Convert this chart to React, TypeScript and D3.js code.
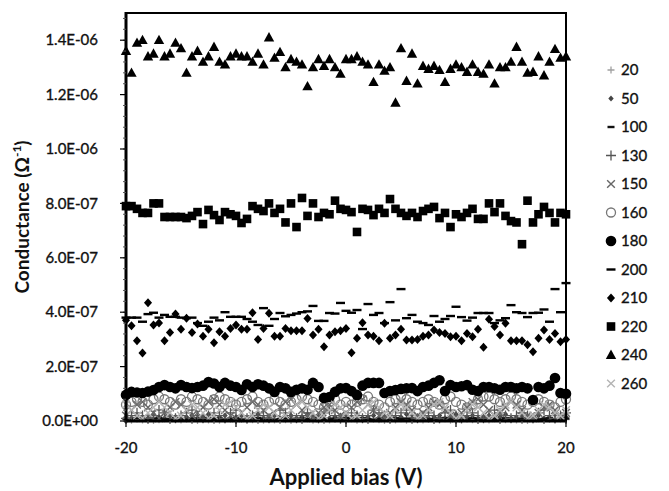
import * as d3 from "d3";

// measurement grid: -20 V to 20 V in 0.5 V steps
const biasV = d3.range(0, 81).map((i) => -20 + i * 0.5);

// conductance values, in units of 1e-8 S
const s20 = [0.5,0.3,0.7,0.4,0.6,0.2,0.5,0.8,0.3,0.6, 0.4,0.7,0.5,0.2,0.6,0.4,0.8,0.3,0.5,0.7, 0.4,0.6,0.2,0.5,0.8,0.3,0.6,0.4,0.7,0.5, 0.2,0.6,0.4,0.8,0.3,0.5,0.7,0.4,0.6,0.2, 0.5,0.8,0.3,0.6,0.4,0.7,0.5,0.2,0.6,0.4, 0.8,0.3,0.5,0.7,0.4,0.6,0.2,0.5,0.8,0.3, 0.6,0.4,0.7,0.5,0.2,0.6,0.4,0.8,0.3,0.5, 0.7,0.4,0.6,0.2,0.5,0.8,0.3,0.6,0.4,0.7, 0.5];
const s50 = [1.5,1,2,1.5,1,2.5,1.5,1,2,1.5, 1,1.5,2,1,1.5,2.5,1,1.5,2,1, 1.5,2,1,1.5,2.5,1,1.5,2,1,1.5, 2,1,1.5,2.5,1,1.5,2,1,1.5,2, 1,1.5,2.5,1,1.5,2,1,1.5,2,1, 1.5,2.5,1,1.5,2,1,1.5,2,1,1.5, 2.5,1,1.5,2,1,1.5,2,1,1.5,2.5, 1,1.5,2,1,1.5,2,1,1.5,2.5,1, 1.5];
const s100 = [0.8,0.6,1,0.7,0.5,0.9,1.1,0.6,0.8,1, 0.7,0.5,0.9,0.8,0.6,1,0.7,0.9,0.5,0.8, 1,0.6,0.7,0.9,1.1,0.6,0.8,0.5,0.7,1, 0.8,0.6,0.9,0.7,0.5,1,0.8,0.6,0.9,0.7, 1.1,0.6,0.8,1,0.7,0.5,0.9,0.8,0.6,1, 0.7,0.9,0.5,0.8,1,0.6,0.7,0.9,1.1,0.6, 0.8,0.5,0.7,1,0.8,0.6,0.9,0.7,0.5,1, 0.8,0.6,0.9,0.7,1.1,0.6,0.8,1,0.7,0.5, 0.9];
const s130 = [1,2,3,2,1,2,4,3,2,1, 2,3,4,2,1,2,3,2,1,3, 4,2,1,2,3,2,1,2,4,3, 2,1,2,3,2,1,3,4,2,1, 2,3,2,1,2,4,3,2,1,2, 3,4,2,1,2,3,2,1,3,4, 2,1,2,3,2,1,2,4,3,2, 1,2,3,2,1,3,4,2,1,2, 3];
const s150 = [2,4,6,7,5,3,1,3,5,7, 6,4,2,3,5,7,8,6,4,2, 1,3,5,7,6,4,2,3,5,7, 8,6,4,2,1,3,5,6,4,2, 3,5,7,8,6,4,2,1,3,5, 7,6,4,2,3,5,7,6,4,2, 1,3,5,7,8,6,4,2,3,5, 7,6,4,2,1,3,5,6,4,2, 3];
const s160 = [6,7,8,7,6,8,9,8,7,6, 8,7,9,8,7,6,8,9,8,7, 6,7,8,9,7,6,7,8,7,6, 7,8,9,8,7,6,5,7,8,6, 7,6,7,8,9,7,6,5,7,8, 9,8,7,6,7,8,7,6,8,9, 7,6,5,6,8,9,9,8,7,8, 9,8,7,6,7,8,7,6,5,7, 8];
const s180 = [9.6,10.7,10.5,10.3,10.8,11.4,12.5,13.2,12.5,12, 13.2,12.5,12.1,12.5,13,14.3,13.8,12.5,14,13, 12.5,11.4,13.5,12.5,13.5,13,12,10.7,12.5,12, 10.7,11.5,12,11.5,14,12.5,8.5,8.8,10.7,12, 12.1,11,9.6,13,14,14,14,10.3,11,11.4, 11.8,12,12.1,11,12.5,13,14,15,11,13.2, 12.5,12.8,13.2,11.5,11,12.5,12.5,12,11.5,12.5, 12.5,12,12.5,12,7.7,12.5,12,13,15.8,10.3, 10];
const s200 = [38,38,38,36.5,39.3,39.8,38,39,38.3,38.3, 38,37.8,38,36,35,36.5,38,37,40,38.3, 38.3,38.3,37.5,36.5,35.3,41.5,35,37.5,39.7,38.5, 39,39.5,40,40.3,42.3,36.8,36.8,39.7,39.5,43.4, 40.5,39.8,40.8,33.8,43,39,39.7,36,43.7,37, 48.5,37.8,39,36.5,36,35.3,38.6,36.5,37.5,38.6, 42,38.2,36.9,38,39.7,39.7,39.7,36,37,37.8, 42.6,40,39.7,38.2,39.7,39.8,41,36.5,48.5,40, 50.7];
const s210 = [37,35,29.5,25,43.5,35.3,36,29.5,32.5,39.3, 33.7,37.8,32.5,35.7,31.2,33.7,28.8,32.8,31.2,34, 35.3,33.7,33.7,39.8,30,34,39.6,31.2,31.2,34, 33.2,33.2,33.2,37.7,31.6,33.7,27.3,31.6,32.8,33.2, 34,25.1,30.4,36.1,31.6,31.2,29.5,35.9,30.4,31.6, 33.7,29.8,29.8,30,31.2,31.6,33.5,32.5,32.2,31, 31.2,29.5,32.2,31,33.7,27.1,37.4,34.7,31.6,35.9, 29.5,29.5,29.5,28,25.5,30.4,33.5,30,32.2,29.1, 30];
const s220 = [79,79,78,76.5,76.5,80,80,75,75,75, 75,74.6,75.4,76.8,72.4,77.6,75.7,73.9,76.8,76, 75.4,72.8,74.3,79,78,77.2,80,76.5,78,73, 80,71.3,82,75.4,80,75,76.5,76,81,78, 77.6,76.8,69.5,78,77.6,75.7,78,76.5,81.6,78, 76.5,75.4,76.5,75,77.2,78,78.7,74.6,76.5,71.3, 76,75,76.5,78,74.3,74.3,80,76.8,80,75.4, 73.5,73,65,81,73,76,78.7,76.5,73,76.5, 76];
const s240 = [136,128,139,140,134,135,140,134,135,139, 137,128,134,136,132,134,137.5,132,131,134, 135,134,134,132,135,131,141,133.5,135.6,130, 133,132,131,123,130,133,130.5,133,130,127.6, 133,133,134,132,131,124.6,131,128.7,130,117, 137,125,135,124,130.5,129.4,130.5,129,124.6,129.4, 131,130,128.3,131,128.3,127.6,131,124,130,130, 132,137.5,132,128,128.3,134,127,132,136.7,133.5, 134];
const s260 = [6,4,2,1,3,5,7,5,3,1, 2,4,6,5,3,1,2,4,6,7, 5,3,1,2,4,6,5,3,1,2, 4,6,7,5,3,1,2,4,6,5, 3,1,2,4,6,7,5,3,2,4, 6,5,3,1,2,4,6,7,5,3, 1,2,4,6,5,3,1,2,4,6, 7,5,3,1,2,4,6,5,3,2, 4];

const seriesNames = ["20", "50", "100", "130", "150", "160", "180", "200", "210", "220", "240", "260"];
const seriesValues = [s20, s50, s100, s130, s150, s160, s180, s200, s210, s220, s240, s260];

const yTicks = [0, 2e-7, 4e-7, 6e-7, 8e-7, 1e-6, 1.2e-6, 1.4e-6];
const yTickLabels = ["0.0E+00", "2.0E-07", "4.0E-07", "6.0E-07", "8.0E-07", "1.0E-06", "1.2E-06", "1.4E-06"];
const xTicks = [-20, -10, 0, 10, 20];

type MarkerKind = "plus" | "dia" | "dash" | "x" | "ocirc" | "circ" | "sq" | "tri";
const styles: { kind: MarkerKind; color: string; size: number }[] = [
  { kind: "plus", color: "#a0a0a0", size: 3.5 },
  { kind: "dia", color: "#444", size: 3 },
  { kind: "dash", color: "#111", size: 3.5 },
  { kind: "plus", color: "#555", size: 5 },
  { kind: "x", color: "#666", size: 4.8 },
  { kind: "ocirc", color: "#777", size: 4.5 },
  { kind: "circ", color: "#000", size: 5.3 },
  { kind: "dash", color: "#000", size: 4.5 },
  { kind: "dia", color: "#000", size: 4.5 },
  { kind: "sq", color: "#000", size: 4.3 },
  { kind: "tri", color: "#000", size: 5.2 },
  { kind: "x", color: "#b4b4b4", size: 4.8 },
];

const L = 126, R = 566, T = 13, B = 421;
const FONT = "Lato, 'Open Sans', sans-serif";
const INK = "#111";

function Marker({ kind, color, size, cx, cy }: { kind: MarkerKind; color: string; size: number; cx: number; cy: number }) {
  const s = size;
  switch (kind) {
    case "plus":
      return <path d={`M${cx - s},${cy}H${cx + s}M${cx},${cy - s}V${cy + s}`} stroke={color} strokeWidth={1.3} />;
    case "x":
      return <path d={`M${cx - s * 0.8},${cy - s * 0.8}L${cx + s * 0.8},${cy + s * 0.8}M${cx - s * 0.8},${cy + s * 0.8}L${cx + s * 0.8},${cy - s * 0.8}`} stroke={color} strokeWidth={1.4} />;
    case "dia":
      return <path d={`M${cx},${cy - s}L${cx + s * 0.9},${cy}L${cx},${cy + s}L${cx - s * 0.9},${cy}Z`} fill={color} />;
    case "dash":
      return <rect x={cx - s} y={cy - 1.2} width={s * 2} height={2.4} fill={color} />;
    case "ocirc":
      return <circle cx={cx} cy={cy} r={s} fill="none" stroke={color} strokeWidth={1.3} />;
    case "circ":
      return <circle cx={cx} cy={cy} r={s} fill={color} />;
    case "sq":
      return <rect x={cx - s} y={cy - s} width={s * 2} height={s * 2} fill={color} />;
    case "tri":
      return <path d={`M${cx},${cy - s * 1.05}L${cx + s},${cy + s * 0.75}L${cx - s},${cy + s * 0.75}Z`} fill={color} />;
  }
}

export default function App() {
  const x = d3.scaleLinear([-20, 20], [L, R]);
  const y = d3.scaleLinear([0, 1.5e-6], [B, T]);
  const yMinor = d3.range(0, 1.5e-6 + 1e-12, 4e-8);
  const xMinor = d3.range(-20, 20.01, 2);

  return (
    <svg width={669} height={491} style={{ position: "absolute", left: 0, top: 0, background: "#fff" }} fontFamily={FONT}>
      {/* data */}
      {seriesValues.map((vals, si) => (
        <g key={seriesNames[si]}>
          {vals.map((v, i) => (
            <Marker key={i} {...styles[si]} cx={x(biasV[i])} cy={y(v * 1e-8)} />
          ))}
        </g>
      ))}

      {/* frame */}
      <rect x={L} y={T} width={R - L} height={B - T} fill="none" stroke="#000" strokeWidth={2} />
      <line x1={L} x2={L} y1={T - 1} y2={B + 1.5} stroke="#000" strokeWidth={3} />
      <line x1={L - 1.5} x2={R + 1} y1={B} y2={B} stroke="#000" strokeWidth={3} />

      {/* y axis ticks */}
      {yMinor.map((t, i) => (
        <line key={"ym" + i} x1={L - 3} x2={L} y1={y(t)} y2={y(t)} stroke="#555" strokeWidth={1} />
      ))}
      {yTicks.map((t, i) => (
        <g key={"y" + i}>
          <line x1={L - 6} x2={L} y1={y(t)} y2={y(t)} stroke="#000" strokeWidth={1.2} />
          <text x={98} y={y(t)} dy="0.35em" textAnchor="end" fontSize={15} fill={INK} stroke={INK} strokeWidth={0.35}>
            {yTickLabels[i]}
          </text>
        </g>
      ))}

      {/* x axis ticks */}
      {xMinor.map((t, i) => (
        <line key={"xm" + i} x1={x(t)} x2={x(t)} y1={B} y2={B + 3} stroke="#555" strokeWidth={1} />
      ))}
      {xTicks.map((t) => (
        <g key={"x" + t}>
          <line x1={x(t)} x2={x(t)} y1={B} y2={B + 6} stroke="#000" strokeWidth={1.2} />
          <text x={x(t)} y={448} dy="0.35em" textAnchor="middle" fontSize={15} fill={INK} stroke={INK} strokeWidth={0.35}>
            {t}
          </text>
        </g>
      ))}

      {/* axis titles */}
      <text x={346} y={477} dy="0.35em" textAnchor="middle" fontSize={22} fontWeight={700} fill={INK}>
        Applied bias (V)
      </text>
      <text transform="translate(22,217) rotate(-90)" dy="0.35em" textAnchor="middle" fontSize={19} fontWeight={700} fill={INK}>
        Conductance (Ω<tspan fontSize={12} dy={-8}>-1</tspan><tspan dy={8}>)</tspan>
      </text>

      {/* legend */}
      {seriesNames.map((name, i) => {
        const cy = 70 + i * 28.5;
        return (
          <g key={"lg" + name}>
            <Marker {...styles[i]} cx={611} cy={cy} />
            <text x={621} y={cy} dy="0.35em" fontSize={15} fill={INK} stroke={INK} strokeWidth={0.35}>
              {name}
            </text>
          </g>
        );
      })}
    </svg>
  );
}
